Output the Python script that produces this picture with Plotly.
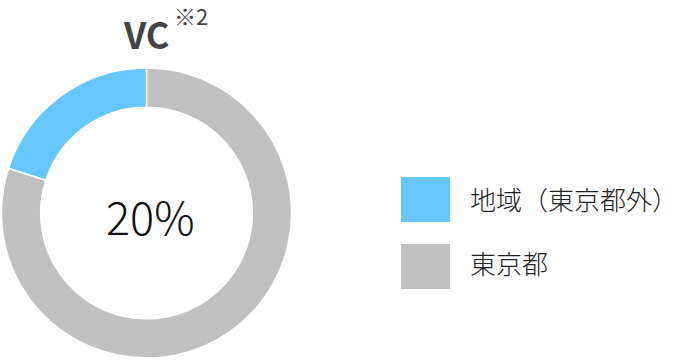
import plotly.graph_objects as go

labels = ["地域（東京都外）", "東京都"]
values = [20, 80]
colors = ["#66c6fe", "#c0c0c0"]
title_text = "VC"
title_note = "※2"
center_text = "20%"

W, H = 679, 360
FONT = "Noto Sans CJK JP"

fig = go.Figure()
# drawn clockwise from 12 o'clock: 東京都 first, then 地域 ends back at 12 o'clock
fig.add_trace(go.Pie(
    labels=labels[::-1], values=values[::-1], sort=False, direction="clockwise",
    rotation=0, hole=0.73, textinfo="none", hoverinfo="label+percent",
    marker=dict(colors=colors[::-1], line=dict(color="white", width=1.5)),
    domain=dict(x=[1 / W, 292 / W], y=[2 / H, 292 / H]),
    showlegend=False,
))

def ann(text, x, y, size, color, xanchor="center", weight=None):
    f = dict(family=FONT, size=size, color=color)
    if weight is not None:
        f["weight"] = weight
    return dict(text=text, x=x / W, y=1 - y / H, xref="paper", yref="paper",
                xanchor=xanchor, yanchor="middle", showarrow=False, font=f)

annotations = [
    ann(center_text, 150, 215, 45, "#111111", weight=300),
    ann("<b>" + title_text + "</b>", 146, 33, 36, "#444444"),
    ann(title_note, 172, 15, 22, "#444444", xanchor="left"),
]
shapes = []
legend_y = [199.5, 266.5]
text_y = [198, 262]
for lab, col, yc, ty in zip(labels, colors, legend_y, text_y):
    shapes.append(dict(type="rect", xref="paper", yref="paper",
                       x0=401 / W, x1=450 / W, y0=1 - (yc - 22.5) / H, y1=1 - (yc + 22.5) / H,
                       fillcolor=col, line=dict(width=0)))
    annotations.append(ann(lab, 468, ty, 26, "#222222", xanchor="left", weight=300))

fig.update_layout(width=W, height=H, margin=dict(l=0, r=0, t=0, b=0),
                  paper_bgcolor="white", plot_bgcolor="white",
                  annotations=annotations, shapes=shapes)
fig.write_html("out.html")
